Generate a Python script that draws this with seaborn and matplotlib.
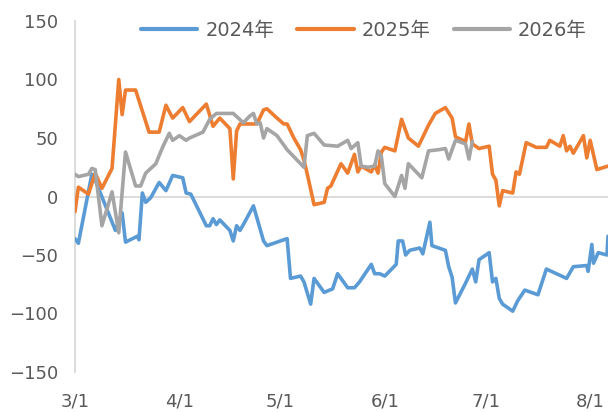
import matplotlib
matplotlib.use("Agg")
import matplotlib.pyplot as plt
import pandas as pd
import seaborn as sns

# days since 3/1 and values
days_2024 = [0, 1, 5, 6, 12, 14, 15, 18.5, 19, 20, 21, 22.5, 25, 27, 29, 32, 33, 34.4,
             39, 40, 41, 42, 43, 46, 47, 48, 49, 50, 53, 55, 56, 57, 63, 64, 67, 68,
             70, 71, 74, 75.6, 76.5, 78, 81, 83, 84.5, 88, 89, 90.5, 92, 95.4, 96,
             97.3, 98.2, 99.4, 102.4, 103.3, 105.4, 106, 109, 110, 111, 112, 113,
             116, 118, 119, 120, 123, 124, 125, 126, 127, 130, 131.5, 133.6, 137.5,
             140, 146, 148, 152, 152.4, 153.5, 154, 155.4, 158, 158.3]
vals_2024 = [-36, -40, 19, 14, -29, -14, -39, -34, -37, 3, -5, -1, 12, 5, 18, 16, 3, 2,
             -25, -25, -19, -24, -20, -29, -38, -25, -29, -24, -8, -28, -38, -42, -36,
             -70, -68, -73, -92, -70, -82, -80, -79, -66, -78, -78, -73, -58, -66, -66,
             -68, -58, -38, -38, -50, -46, -44, -49, -22, -42, -45, -46, -60, -69, -91,
             -74, -62, -73, -54, -48, -73, -70, -87, -92, -98, -89, -80, -84, -62, -70,
             -60, -59, -64, -41, -57, -48, -50, -34]

days_2025 = [0, 1, 4, 6, 8, 11, 13, 14, 15, 18, 22, 25, 27, 29, 32, 34, 39, 41, 43,
             46, 47, 48, 49, 54, 56, 57, 60, 62, 63, 65, 67, 68, 69, 71, 74, 75, 76,
             79, 81, 83, 84, 85, 88, 89, 90, 91, 92, 95, 97, 99, 102, 105, 107, 110,
             112, 113, 116, 117, 118, 120, 123, 124, 125, 126, 127, 130, 131, 132,
             134, 137, 140, 141, 144, 145, 146, 147, 148, 151, 152, 153, 155, 158.3]
vals_2025 = [-13, 8, 2, 20, 7, 24, 100, 70, 91, 91, 55, 55, 78, 67, 76, 64, 79, 60, 67,
             58, 15, 56, 62, 62, 74, 75, 67, 62, 62, 50, 40, 31, 19, -7, -5, 7, 9, 28,
             20, 36, 21, 26, 21, 27, 20, 38, 42, 39, 66, 50, 43, 61, 71, 76, 67, 51,
             47, 62, 45, 41, 43, 19, 14, -8, 5, 3, 21, 19, 46, 42, 42, 48, 43, 52, 39,
             43, 37, 52, 33, 48, 23, 26]

days_2026 = [0, 1, 4, 5, 6, 8, 11, 13, 15, 18, 19.5, 21, 24, 26, 28, 29, 31, 33, 34,
             38, 40, 42, 47, 50, 52, 53, 54, 55, 56, 57, 60, 63, 66, 68, 69, 71, 74,
             78, 81, 82, 84, 85, 87, 89, 90, 91, 92, 95, 97, 98, 99, 103, 105, 108,
             110, 111, 113, 116, 117, 118]
vals_2026 = [19, 17, 19, 24, 23, -25, 4, -31, 38, 9, 9, 20, 28, 42, 54, 48, 52, 48, 50,
             55, 66, 71, 71, 63, 69, 71, 62, 63, 50, 58, 52, 40, 31, 25, 52, 54, 44,
             43, 48, 41, 46, 26, 25, 26, 39, 34, 11, 0, 18, 7, 28, 16, 39, 40, 41, 32,
             48, 45, 32, 47]

labels = ["2024年", "2025年", "2026年"]
colors = ["#5B9BD5", "#ED7D31", "#A5A5A5"]
tick_days = [0, 31, 61, 92, 122, 153]
tick_labels = ["3/1", "4/1", "5/1", "6/1", "7/1", "8/1"]

df = pd.concat([
    pd.DataFrame({"day": days_2024, "value": vals_2024, "year": labels[0]}),
    pd.DataFrame({"day": days_2025, "value": vals_2025, "year": labels[1]}),
    pd.DataFrame({"day": days_2026, "value": vals_2026, "year": labels[2]}),
], ignore_index=True)

sns.set_style("white")
plt.rcParams["font.family"] = ["DejaVu Sans", "Noto Sans CJK SC"]
text_color = "#595959"

fig = plt.figure(figsize=(6.08, 4.12), dpi=100)
ax = fig.add_axes([75 / 608, 40 / 412, 533 / 608, 351 / 412])

ax.axhline(0, color="#d9d9d9", lw=1.3, zorder=1)
sns.lineplot(data=df, x="day", y="value", hue="year", palette=colors,
             estimator=None, sort=False, lw=2.6, ax=ax, zorder=3)

ax.set_xlim(0, 158.3)
ax.set_ylim(-150, 150)
ax.set_yticks(range(-150, 151, 50))
ax.set_xticks(tick_days)
ax.set_xticklabels(tick_labels)
ax.set_xlabel("")
ax.set_ylabel("")
ax.tick_params(axis="both", length=0, labelsize=13, colors=text_color)
ax.tick_params(axis="x", pad=15)
ax.tick_params(axis="y", pad=12)

for side in ["top", "right", "bottom"]:
    ax.spines[side].set_visible(False)
ax.spines["left"].set_color("#d9d9d9")
ax.spines["left"].set_linewidth(1.3)

leg = ax.legend(loc="center", bbox_to_anchor=(364 / 608, 1 - 30 / 412),
                bbox_transform=fig.transFigure, ncol=3, frameon=False,
                fontsize=14, handlelength=2.9, columnspacing=1.2,
                handletextpad=0.4)
for t in leg.get_texts():
    t.set_color(text_color)
for h in leg.get_lines():
    h.set_linewidth(3)

fig.savefig("out.png", dpi=100)
